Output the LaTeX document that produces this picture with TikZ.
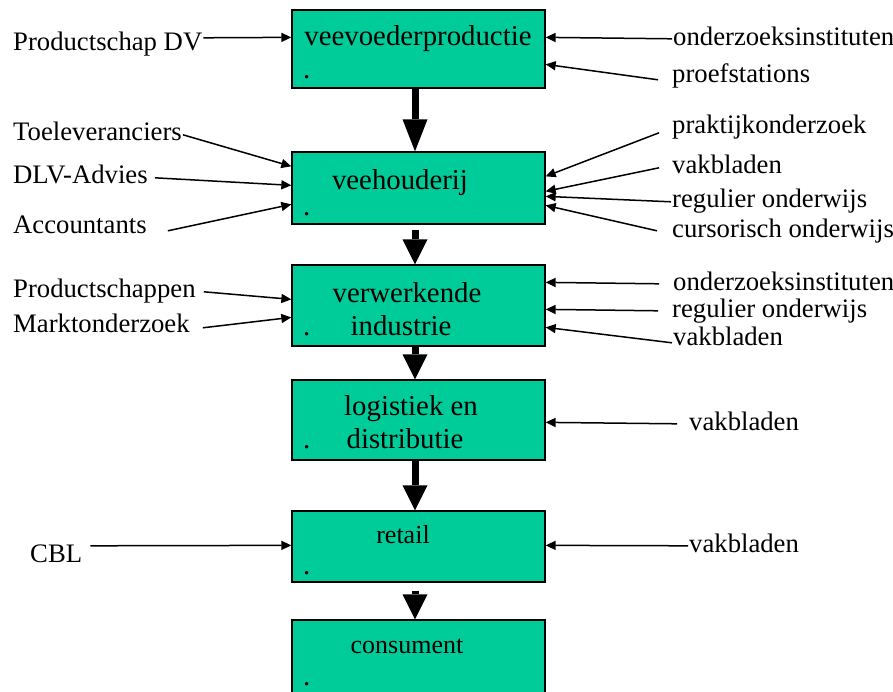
\documentclass[tikz,border=0pt]{standalone}
\usepackage{fontspec}
\setmainfont{Liberation Serif}
\definecolor{green1}{RGB}{0, 204, 153}
\usetikzlibrary{arrows.meta}

\begin{document}
\begin{tikzpicture}[x=1pt, y=-1pt,
  stage/.style={draw=black, line width=1.3pt, fill=green1, minimum width=253pt, inner sep=0pt},
  stagetext/.style={font=\fontsize{28.8}{34}\selectfont, inner sep=0pt, anchor=base},
  dotmark/.style={font=\fontsize{28.8}{34}\selectfont, inner sep=0pt, anchor=base west},
  source/.style={font=\fontsize{26.7}{32}\selectfont, inner sep=1pt, anchor=base west, text height=18.2pt, text depth=5.8pt},
  feed/.style={line width=1.5pt, -{Triangle[length=10pt, width=9pt]}},
  chain/.style={line width=7pt, -{Triangle[length=25pt, width=25pt, line width=0pt]}}]

  \useasboundingbox (0,0) rectangle (893,691);

  \node[stage, minimum height=78pt] (vv) at (418.5,49) {};
  \node[stage, minimum height=72pt] (vh) at (418.5,188) {};
  \node[stage, minimum height=81pt] (vi) at (418.5,305.5) {};
  \node[stage, minimum height=80pt] (ld) at (418.5,420) {};
  \node[stage, minimum height=71pt] (rt) at (418.5,546.5) {};
  \node[stage, minimum height=100pt] (cs) at (418.5,670) {};

  \node[stagetext] (vvtxt) at (418,45) {veevoederproductie};
  \node[dotmark] (vvdot) at (303,78) {.};
  \node[stagetext] (vhtxt) at (400,189) {veehouderij};
  \node[dotmark] (vhdot) at (303,215) {.};
  \node[stagetext] (vitxt1) at (407,302) {verwerkende};
  \node[stagetext] (vitxt2) at (401,335) {industrie};
  \node[dotmark] (vidot) at (303,335) {.};
  \node[stagetext] (ldtxt1) at (411,415) {logistiek en};
  \node[stagetext] (ldtxt2) at (405,448) {distributie};
  \node[dotmark] (lddot) at (303,448) {.};
  \node[stagetext, font=\fontsize{26}{31}\selectfont] (rttxt) at (403,543) {retail};
  \node[dotmark] (rtdot) at (303,574) {.};
  \node[stagetext, font=\fontsize{26}{31}\selectfont] (cstxt) at (407,653) {consument};
  \node[dotmark] (csdot) at (303,685) {.};

  \node[source] (pdv) at (12,50) {Productschap DV};
  \node[source] (toel) at (12,140) {Toeleveranciers};
  \node[source] (dlv) at (12,183) {DLV-Advies};
  \node[source] (acc) at (12,233) {Accountants};
  \node[source] (prods) at (12,297) {Productschappen};
  \node[source] (markt) at (12,332) {Marktonderzoek};
  \node[source] (cbl) at (29,562) {CBL};

  \node[source] (oi1) at (672,45) {onderzoeksinstituten};
  \node[source] (pst) at (671,82) {proefstations};
  \node[source] (pko) at (671,133) {praktijkonderzoek};
  \node[source] (vb2) at (671,173) {vakbladen};
  \node[source] (ro2) at (671,207) {regulier onderwijs};
  \node[source] (co2) at (671,237) {cursorisch onderwijs};
  \node[source] (oi3) at (672,290) {onderzoeksinstituten};
  \node[source] (ro3) at (671,317) {regulier onderwijs};
  \node[source] (vb3) at (672,345) {vakbladen};
  \node[source] (vb4) at (688,430) {vakbladen};
  \node[source] (vb5) at (688,552) {vakbladen};

  \draw[feed] ([yshift=6pt]pdv.east) -- ([yshift=-28pt]vv.north west);
  \draw[feed] ([yshift=-1pt]toel.east) -- ([yshift=-15pt]vh.north west);
  \draw[feed] ([xshift=6pt, yshift=-1pt]dlv.east) -- ([yshift=-34pt]vh.north west);
  \draw[feed] ([xshift=20pt, yshift=-4pt]acc.east) -- ([yshift=-53pt]vh.north west);
  \draw[feed] ([xshift=7pt, yshift=-1pt]prods.east) -- ([yshift=-35pt]vi.north west);
  \draw[feed] ([xshift=12pt, yshift=-2pt]markt.east) -- ([yshift=-53pt]vi.north west);
  \draw[feed] ([xshift=7pt, yshift=10pt]cbl.east) -- ([yshift=-35pt]rt.north west);

  \draw[feed] (oi1.west) -- ([yshift=-28pt]vv.north east);
  \draw[feed] ([xshift=-13pt, yshift=-4pt]pst.west) -- ([yshift=-55pt]vv.north east);
  \draw[feed] ([xshift=-12pt, yshift=-6pt]pko.west) -- ([yshift=-25pt]vh.north east);
  \draw[feed] ([xshift=-12pt, yshift=-1pt]vb2.west) -- ([yshift=-40pt]vh.north east);
  \draw[feed] ([yshift=-1pt]ro2.west) -- ([yshift=-45pt]vh.north east);
  \draw[feed] ([xshift=-14pt]co2.west) -- ([yshift=-54pt]vh.north east);
  \draw[feed] ([xshift=-13pt]oi3.west) -- ([yshift=-18pt]vi.north east);
  \draw[feed] ([xshift=-13pt]ro3.west) -- ([yshift=-45pt]vi.north east);
  \draw[feed] ([yshift=-4pt]vb3.west) -- ([yshift=-63pt]vi.north east);
  \draw[feed] ([xshift=-11pt]vb4.west) -- ([yshift=-43pt]ld.north east);
  \draw[feed] (vb5.west) -- ([yshift=-35pt]rt.north east);

  \draw[chain, -{Triangle[length=32pt, width=25pt, line width=0pt]}] ([xshift=-3.5pt]vv.south) -- ([xshift=-3.5pt]vh.north);
  \draw[chain, shorten <=5pt] ([xshift=-3.5pt]vh.south) -- ([xshift=-3.5pt]vi.north);
  \draw[chain] ([xshift=-3.5pt]vi.south) -- ([xshift=-3.5pt]ld.north);
  \draw[chain] ([xshift=-3.5pt]ld.south) -- ([xshift=-3.5pt]rt.north);
  \draw[chain, shorten <=8pt] ([xshift=-3.5pt]rt.south) -- ([xshift=-3.5pt]cs.north);
\end{tikzpicture}
\end{document}
